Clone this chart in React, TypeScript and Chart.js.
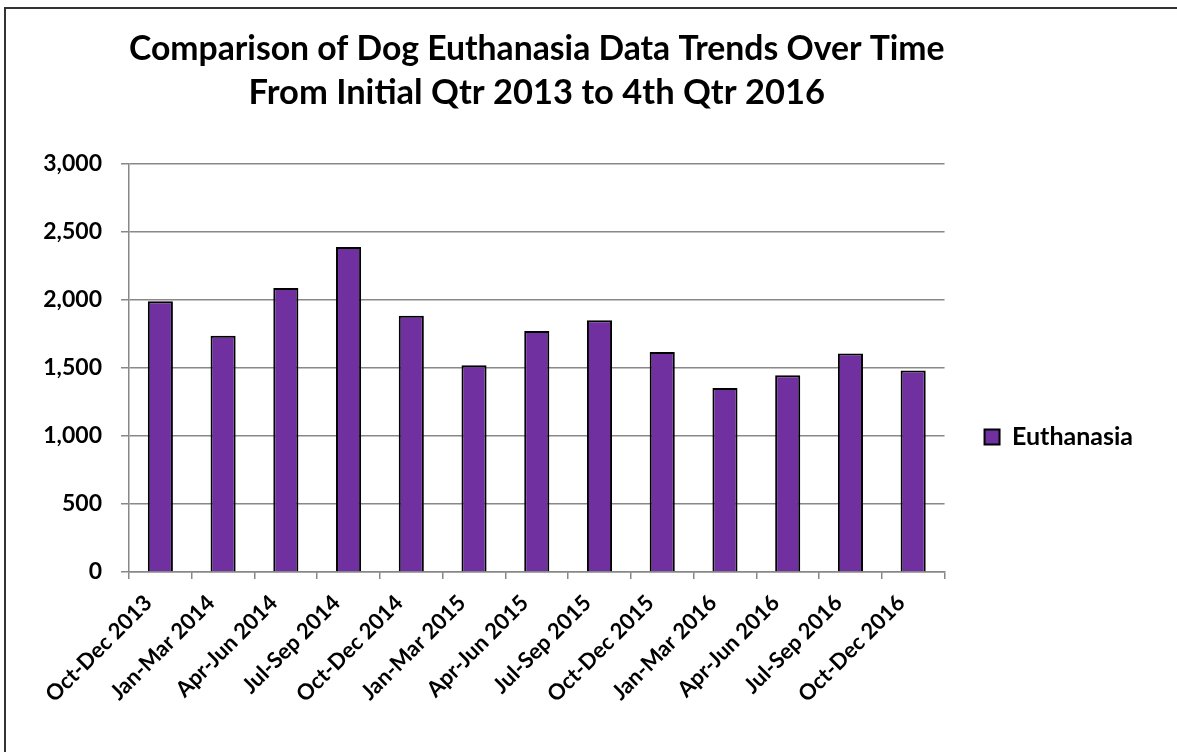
import React, { useEffect, useRef } from "react";
import { Chart, registerables } from "chart.js";

Chart.register(...registerables);

const categories: string[] = [
  "Oct-Dec 2013",
  "Jan-Mar 2014",
  "Apr-Jun 2014",
  "Jul-Sep 2014",
  "Oct-Dec 2014",
  "Jan-Mar 2015",
  "Apr-Jun 2015",
  "Jul-Sep 2015",
  "Oct-Dec 2015",
  "Jan-Mar 2016",
  "Apr-Jun 2016",
  "Jul-Sep 2016",
  "Oct-Dec 2016",
];

const euthanasia: number[] = [1990, 1738, 2088, 2390, 1885, 1520, 1772, 1851, 1618, 1353, 1446, 1606, 1481];

const titleLines: string[] = [
  "Comparison of Dog Euthanasia Data Trends Over Time",
  "From Initial Qtr 2013 to 4th Qtr 2016",
];

const seriesName = "Euthanasia";

const FONT = "Lato, 'DejaVu Sans', sans-serif";
const GRID = "#888888";

const legendShift = {
  id: "legendShift",
  afterLayout(chart: any) {
    const l = chart.legend;
    if (!l) return;
    const target = 437;
    const d = target - (l.top + l.bottom) / 2;
    l.top += d;
    l.bottom += d;
  },
};

export default function App() {
  const ref = useRef<HTMLCanvasElement | null>(null);

  useEffect(() => {
    if (!ref.current) return;
    const chart = new Chart(ref.current, {
      type: "bar",
      data: {
        labels: categories,
        datasets: [
          {
            label: seriesName,
            data: euthanasia,
            backgroundColor: "#7030A0",
            borderColor: "#000000",
            borderWidth: 2,
            barPercentage: 0.4,
            categoryPercentage: 1,
          },
        ],
      },
      options: {
        responsive: false,
        animation: false,
        devicePixelRatio: 1,
        layout: { padding: { left: 5, right: 34, top: 0, bottom: 0 } },
        plugins: {
          tooltip: { enabled: false },
          title: {
            display: true,
            text: titleLines,
            fullSize: false,
            color: "#000000",
            font: { family: FONT, size: 34.5, weight: "bold", lineHeight: "44px" },
            padding: { top: 27, bottom: 49 },
          },
          legend: {
            display: true,
            position: "right",
            fullSize: true,
            align: "center",
            labels: {
              boxWidth: 15,
              boxHeight: 15,
              padding: 40,
              color: "#000000",
              font: { family: FONT, size: 25, weight: "bold" },
            },
          },
        },
        scales: {
          x: {
            offset: true,
            afterFit: (s: any) => {
              s.height = 180;
            },
            grid: {
              display: true,
              offset: true,
              drawOnChartArea: false,
              drawTicks: true,
              tickLength: 7,
              color: GRID,
              lineWidth: 1.5,
            },
            border: { display: true, color: GRID, width: 1.5 },
            ticks: {
              autoSkip: false,
              maxRotation: 45,
              minRotation: 45,
              padding: 11,
              labelOffset: -12,
              color: "#000000",
              font: { family: FONT, size: 22, weight: "bold" },
            },
          },
          y: {
            min: 0,
            max: 3000,
            afterFit: (s: any) => {
              s.width = 124;
            },
            grid: {
              color: GRID,
              lineWidth: 1.5,
              drawTicks: true,
              tickLength: 8,
            },
            border: { display: true, color: GRID, width: 1.5 },
            ticks: {
              stepSize: 500,
              padding: 19,
              color: "#000000",
              font: { family: FONT, size: 23, weight: "bold" },
            },
          },
        },
      },
      plugins: [legendShift],
    });
    return () => chart.destroy();
  }, []);

  return (
    <div
      style={{
        position: "fixed",
        left: 0,
        top: 0,
        width: 1177,
        height: 752,
        overflow: "hidden",
        background: "#ffffff",
      }}
    >
      <div
        style={{
          position: "absolute",
          left: 4,
          top: 7,
          width: 1400,
          height: 1000,
          borderTop: "2px solid #333333",
          borderLeft: "2px solid #333333",
        }}
      />
      <canvas
        ref={ref}
        width={1177}
        height={752}
        style={{ position: "absolute", left: 0, top: 0, width: 1177, height: 752 }}
      />
    </div>
  );
}
